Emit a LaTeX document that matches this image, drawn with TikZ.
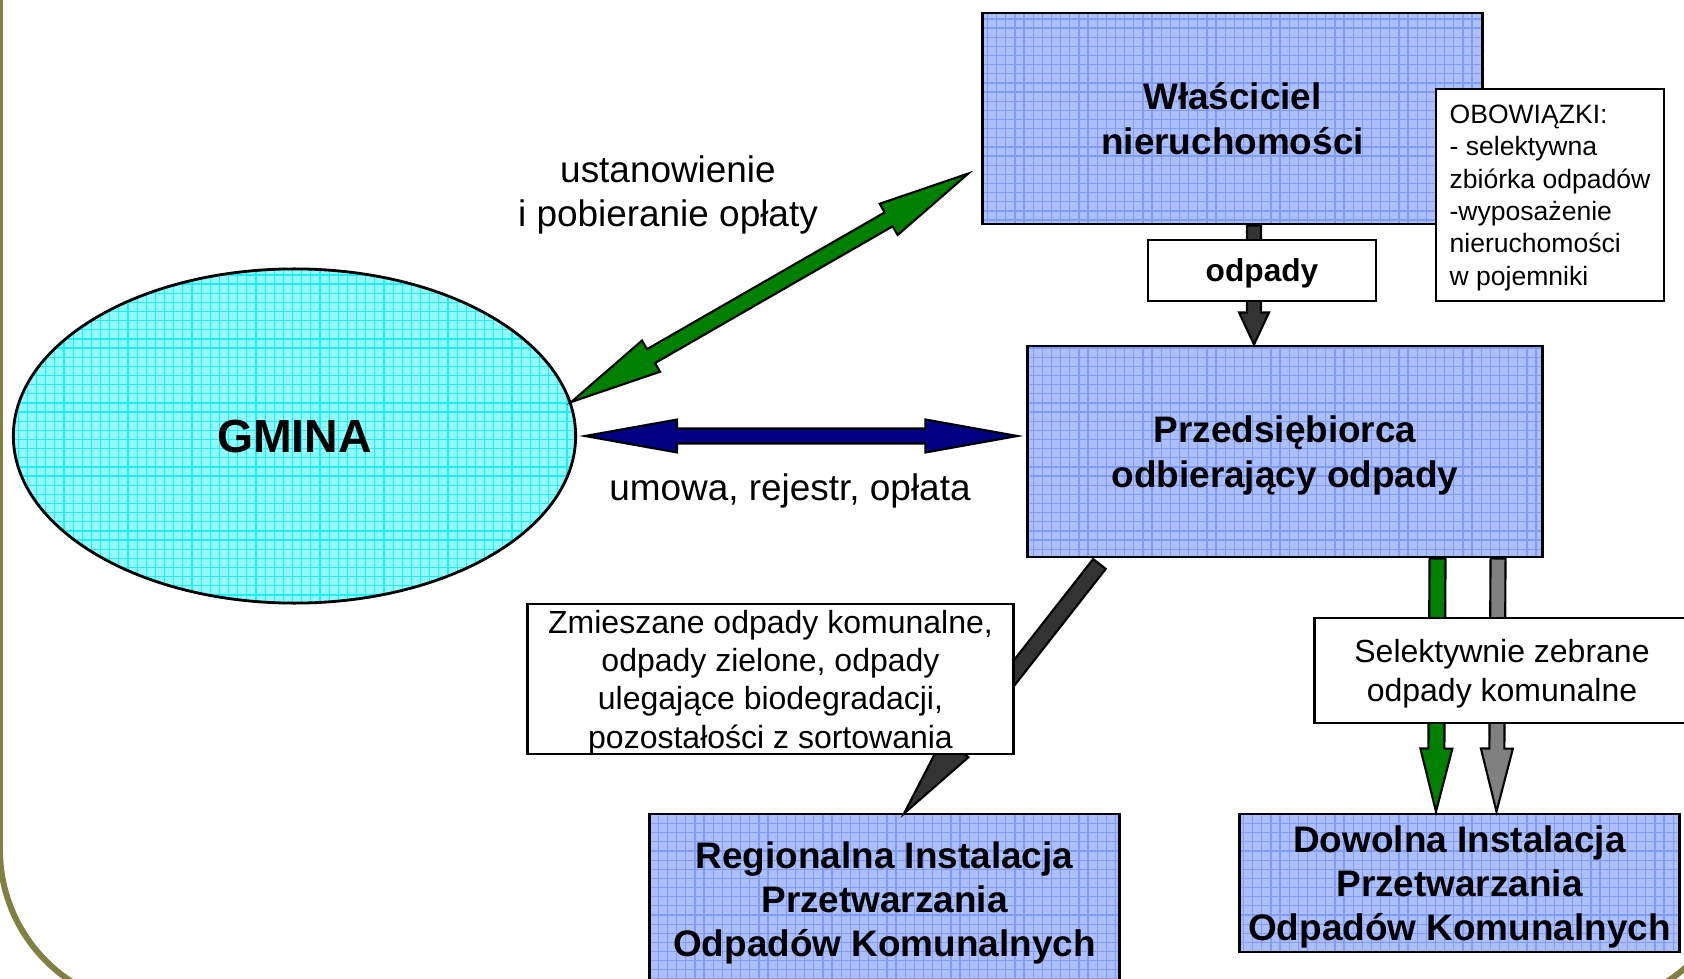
\documentclass[tikz,border=0pt]{standalone}
\usepackage{fontspec}
\setmainfont{Liberation Sans}
\usetikzlibrary{calc,shapes.geometric,patterns}
\definecolor{olivefr}{RGB}{128,128,64}
\definecolor{cyanbase}{RGB}{145,250,252}
\definecolor{cyangrid}{RGB}{30,238,248}
\definecolor{bluebase}{RGB}{172,190,252}
\definecolor{bluegrid}{RGB}{128,155,248}
\definecolor{arrgreen}{RGB}{0,128,0}
\definecolor{arrnavy}{RGB}{0,0,128}
\definecolor{arrdark}{RGB}{51,51,51}
\definecolor{arrgray}{RGB}{128,128,128}

\pgfdeclarepatternformonly{finegrid}{\pgfqpoint{-1pt}{-1pt}}{\pgfqpoint{3.6pt}{3.6pt}}{\pgfqpoint{2.6pt}{2.6pt}}{%
  \pgfsetlinewidth{0.35pt}
  \pgfpathmoveto{\pgfqpoint{0pt}{0pt}}\pgfpathlineto{\pgfqpoint{2.7pt}{0pt}}
  \pgfpathmoveto{\pgfqpoint{0pt}{0pt}}\pgfpathlineto{\pgfqpoint{0pt}{2.7pt}}
  \pgfusepath{stroke}}

% single block arrow: #1 style, #2 from, #3 to, #4 shaft half width, #5 head half width, #6 head length
\newcommand{\blockarr}[6]{%
  \coordinate (ba-h) at ($(#3)!#6!(#2)$);
  \path[#1] ($(#2)!#4!90:(#3)$) -- ($(ba-h)!#4!90:(#3)$) -- ($(ba-h)!#5!90:(#3)$) -- (#3)
    -- ($(ba-h)!#5!-90:(#3)$) -- ($(ba-h)!#4!-90:(#3)$) -- ($(#2)!#4!-90:(#3)$) -- cycle;}
% double block arrow
\newcommand{\dblockarr}[6]{%
  \coordinate (ba-h) at ($(#3)!#6!(#2)$);
  \coordinate (ba-g) at ($(#2)!#6!(#3)$);
  \path[#1] (#2) -- ($(ba-g)!#5!90:(#3)$) -- ($(ba-g)!#4!90:(#3)$) -- ($(ba-h)!#4!90:(#3)$)
    -- ($(ba-h)!#5!90:(#3)$) -- (#3) -- ($(ba-h)!#5!-90:(#3)$) -- ($(ba-h)!#4!-90:(#3)$)
    -- ($(ba-g)!#4!-90:(#3)$) -- ($(ba-g)!#5!-90:(#3)$) -- cycle;}

\tikzset{
  frame/.style={draw=olivefr, line width=1.7pt},
  bluebox/.style={draw, line width=0.8pt, preaction={fill=bluebase}, pattern=finegrid,
    pattern color=bluegrid, inner sep=0pt, align=center, text depth=-0.02cm,
    font=\bfseries\fontsize{10.5pt}{12.6pt}\selectfont},
  whitebox/.style={draw, line width=0.8pt, fill=white, inner sep=0pt, align=center, text depth=-0.025cm},
  blockout/.style={draw=black, line width=0.6pt, line join=miter},
  lbl/.style={inner sep=0pt, align=center, text depth=0pt, font=\fontsize{10.5pt}{12.5pt}\selectfont},
}

\begin{document}
\begin{tikzpicture}[x=0.01cm, y=-0.01cm]
\useasboundingbox (0,0) rectangle (1684,979);
\clip (0,0) rectangle (1684,979);

\draw[frame, rounded corners=1.57cm] (0,-200) rectangle (1738.5,1007);

\node[ellipse, draw, line width=0.8pt, preaction={fill=cyanbase}, pattern=finegrid,
  pattern color=cyangrid, minimum width=5.62cm, minimum height=3.34cm, inner sep=0pt,
  text depth=-0.02cm, font=\bfseries\fontsize{13.2pt}{15pt}\selectfont] (G) at (294.5,436) {GMINA};

\node[bluebox, minimum width=4.99cm, minimum height=2.11cm] (W) at (1232.5,118.5) {Właściciel\\nieruchomości};
\node[bluebox, minimum width=5.14cm, minimum height=2.11cm] (P) at (1285,451.5) {Przedsiębiorca\\odbierający odpady};
\node[bluebox, minimum width=4.69cm, minimum height=1.70cm] (R) at (884.5,899) {Regionalna Instalacja\\Przetwarzania\\Odpadów Komunalnych};
\node[bluebox, minimum width=4.39cm, minimum height=1.38cm] (D) at (1459.5,883) {Dowolna Instalacja\\Przetwarzania\\Odpadów Komunalnych};

% arrow end points
\coordinate (gA) at (G.7.5);
\coordinate (gB) at ($(W.south west)+(-13,-52)$);
\coordinate (bA) at ($(G.east)+(8,0)$);
\coordinate (bB) at ($(P.west)+(-9,-15.5)$);
\coordinate (dA) at ($(W.south)+(21.5,0)$);
\coordinate (dB) at ($(P.north)+(-31,0)$);
\coordinate (kA) at ($(P.south west)+(73,5.5)$);
\coordinate (kB) at ($(R.north)+(19.5,1)$);
\coordinate (vA) at ($(P.south east)+(-106,0)$);
\coordinate (vB) at ($(D.north)+(-23.5,-1)$);
\coordinate (wA) at ($(P.south east)+(-45.5,0)$);
\coordinate (wB) at ($(D.north)+(37,-1)$);

\dblockarr{blockout, fill=arrgreen}{gA}{gB}{0.08cm}{0.18cm}{0.92cm}
\dblockarr{blockout, fill=arrnavy}{bA}{bB}{0.075cm}{0.165cm}{0.92cm}
\blockarr{blockout, fill=arrdark}{dA}{dB}{0.07cm}{0.15cm}{0.32cm}
\blockarr{blockout, fill=arrdark}{kA}{kB}{0.08cm}{0.16cm}{0.84cm}
\blockarr{blockout, fill=arrgreen}{vA}{vB}{0.08cm}{0.16cm}{0.63cm}
\blockarr{blockout, fill=arrgray}{wA}{wB}{0.075cm}{0.16cm}{0.63cm}

\node[whitebox, minimum width=2.28cm, minimum height=0.61cm,
  font=\bfseries\fontsize{9pt}{11pt}\selectfont] (O) at (1262,270.5) {odpady};
\node[whitebox, minimum width=4.85cm, minimum height=1.50cm,
  font=\fontsize{9.1pt}{10.9pt}\selectfont] (Z) at (770.5,679)
  {Zmieszane odpady komunalne,\\odpady zielone, odpady\\ulegające biodegradacji,\\pozostałości z sortowania};
\node[whitebox, minimum width=3.74cm, minimum height=1.05cm,
  font=\fontsize{9.1pt}{10.9pt}\selectfont] (S) at (1502,670.5)
  {Selektywnie zebrane\\odpady komunalne};
\node[whitebox, align=left, minimum width=2.28cm, minimum height=2.12cm,
  font=\fontsize{7.55pt}{9.2pt}\selectfont] (OB) at (1550,195)
  {OBOWIĄZKI:\\- selektywna\\zbiórka odpadów\\-wyposażenie\\nieruchomości\\w pojemniki};

\node[lbl] (L1) at (668,191) {ustanowienie\\i pobieranie opłaty};
\node[lbl] (L2) at (790,487) {umowa, rejestr, opłata};
\end{tikzpicture}
\end{document}
